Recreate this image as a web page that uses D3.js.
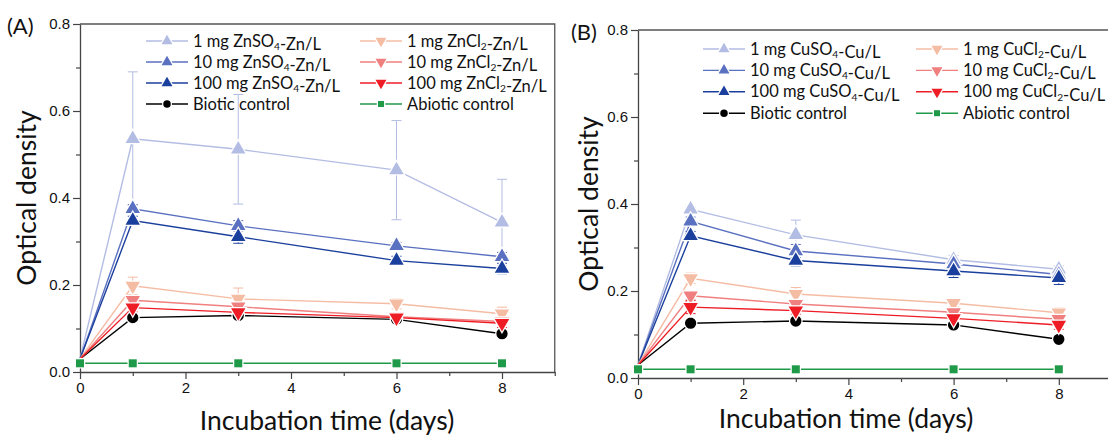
<!DOCTYPE html>
<html>
<head>
<meta charset="utf-8">
<script src="https://cdn.jsdelivr.net/npm/d3@7"></script>
<style>
  body { margin: 0; background: #fff; }
  svg { display: block; font-family: Lato, "Open Sans", sans-serif; }
</style>
</head>
<body>
<script>
// 数据
const days = [0, 1, 3, 6, 8];

// (A) 锌
const znSO4_1 = [0.03, 0.536, 0.512, 0.464, 0.344];
const znSO4_10 = [0.03, 0.375, 0.336, 0.290, 0.265];
const znSO4_100 = [0.03, 0.348, 0.311, 0.256, 0.238];
const znCl2_1 = [0.03, 0.198, 0.168, 0.157, 0.134];
const znCl2_10 = [0.03, 0.165, 0.150, 0.127, 0.116];
const znCl2_100 = [0.03, 0.148, 0.137, 0.125, 0.112];
const bioticA = [0.03, 0.125, 0.130, 0.121, 0.088];
const abioticA = [0.02, 0.02, 0.02, 0.02, 0.02];

const znSO4_1_err = [0, 0.154, 0.126, 0.114, 0.099];
const znSO4_10_err = [0, 0.010, 0.012, 0.008, 0.010];
const znSO4_100_err = [0, 0.010, 0.015, 0.010, 0.012];
const znCl2_1_err = [0, 0.020, 0.025, 0.012, 0.015];
const znCl2_10_err = [0, 0.010, 0.010, 0.005, 0.008];
const znCl2_100_err = [0, 0.010, 0.005, 0.005, 0.010];
const bioticA_err = [0, 0.005, 0.005, 0.008, 0.005];

// (B) 铜
const cuSO4_1 = [0.03, 0.388, 0.329, 0.272, 0.250];
const cuSO4_10 = [0.03, 0.360, 0.292, 0.262, 0.238];
const cuSO4_100 = [0.03, 0.327, 0.270, 0.246, 0.230];
const cuCl2_1 = [0.03, 0.229, 0.193, 0.172, 0.150];
const cuCl2_10 = [0.03, 0.189, 0.170, 0.151, 0.135];
const cuCl2_100 = [0.03, 0.163, 0.155, 0.137, 0.122];
const bioticB = [0.03, 0.126, 0.131, 0.122, 0.089];
const abioticB = [0.02, 0.02, 0.02, 0.02, 0.02];

const cuSO4_1_err = [0, 0.005, 0.034, 0.010, 0.008];
const cuSO4_10_err = [0, 0.010, 0.015, 0.010, 0.008];
const cuSO4_100_err = [0, 0.010, 0.012, 0.015, 0.015];
const cuCl2_1_err = [0, 0.012, 0.015, 0.008, 0.012];
const cuCl2_10_err = [0, 0.008, 0.008, 0.008, 0.010];
const cuCl2_100_err = [0, 0.015, 0.008, 0.008, 0.010];
const bioticB_err = [0, 0.005, 0.005, 0.005, 0.005];

// 图例文字，"_x" 表示下标
const namesA = ["1 mg ZnSO_4-Zn/L", "10 mg ZnSO_4-Zn/L", "100 mg ZnSO_4-Zn/L", "Biotic control",
                "1 mg ZnCl_2-Zn/L", "10 mg ZnCl_2-Zn/L", "100 mg ZnCl_2-Zn/L", "Abiotic control"];
const namesB = ["1 mg CuSO_4-Cu/L", "10 mg CuSO_4-Cu/L", "100 mg CuSO_4-Cu/L", "Biotic control",
                "1 mg CuCl_2-Cu/L", "10 mg CuCl_2-Cu/L", "100 mg CuCl_2-Cu/L", "Abiotic control"];

const xTicks = [0, 2, 4, 6, 8];
const yTicks = [0, 0.2, 0.4, 0.6, 0.8];

const colors = ["#b3bde3", "#5a70c0", "#1b3f9c", "#000000", "#f5bca4", "#f07f7f", "#ee1c24", "#1f9a48"];
const shapes = ["up", "up", "up", "circle", "down", "down", "down", "square"];

const svg = d3.select("body").append("svg").attr("width", 1108).attr("height", 438);

function markerPath(shape, big) {
    let s;
    if (shape === "circle") s = d3.symbol(d3.symbolCircle, big ? 100 : 44);
    else if (shape === "square") s = d3.symbol(d3.symbolSquare, big ? 64 : 36);
    else s = d3.symbol(d3.symbolTriangle, big ? 90 : 52);
    return s();
}

function drawMarker(g, shape, color, x, y, big) {
    g.append("path")
        .attr("d", markerPath(shape, big))
        .attr("transform", `translate(${x},${y})` + (shape === "down" ? " rotate(180)" : ""))
        .attr("fill", color)
        .attr("stroke", "#fff")
        .attr("stroke-width", 2.5)
        .attr("paint-order", "stroke");
}

// 带下标的文字
function addLabel(text, str) {
    str.split(/(_\d)/).forEach(part => {
        if (part.startsWith("_")) {
            text.append("tspan").attr("font-size", "0.62em").attr("dy", "0.35em").text(part.slice(1));
            text.append("tspan").attr("dy", "-0.35em").text("");
        } else if (part) {
            text.append("tspan").text(part);
        }
    });
}

function createPanel(option) {
    const { left, top, bottom, unit, series, errors, names, tag, tagX, tagY, legend, yLabelX, xLabelX, xLabelY } = option;
    const x = d3.scaleLinear().domain([0, 9]).range([left, left + 9 * unit]);
    const y = d3.scaleLinear().domain([0, 0.8]).range([bottom, top]);
    const right = x(9);
    const g = svg.append("g");

    // 边框
    g.append("path")
        .attr("d", `M${left},${top}H${right}V${bottom}`)
        .attr("fill", "none").attr("stroke", "#555").attr("stroke-width", 1.3);

    // x轴
    g.append("g").attr("transform", `translate(0,${bottom})`)
        .call(d3.axisBottom(x).tickValues(d3.range(1, 10, 2)).tickSize(4).tickFormat(""))
        .call(a => a.select(".domain").remove());
    const gx = g.append("g").attr("transform", `translate(0,${bottom})`)
        .call(d3.axisBottom(x).tickValues(xTicks).tickSize(7).tickSizeOuter(0).tickPadding(3));
    gx.selectAll("text").attr("font-size", 15).attr("fill", "#111");

    // y轴
    g.append("g").attr("transform", `translate(${left},0)`)
        .call(d3.axisLeft(y).tickValues([0.1, 0.3, 0.5, 0.7]).tickSize(4).tickFormat(""))
        .call(a => a.select(".domain").remove());
    const gy = g.append("g").attr("transform", `translate(${left},0)`)
        .call(d3.axisLeft(y).tickValues(yTicks).tickSize(7).tickSizeOuter(0).tickPadding(3).tickFormat(d3.format(".1f")));
    gy.selectAll("text").attr("font-size", 15).attr("fill", "#111");
    g.selectAll(".tick line").attr("stroke", "#444").attr("stroke-width", 1.2);
    g.selectAll(".domain").attr("stroke", "#444").attr("stroke-width", 1.3);

    // 轴标题
    g.append("text")
        .attr("transform", `translate(${yLabelX},${(top + bottom) / 2}) rotate(-90)`)
        .attr("text-anchor", "middle").attr("font-size", 26.5).attr("fill", "#111")
        .text("Optical density");
    g.append("text")
        .attr("x", xLabelX).attr("y", xLabelY)
        .attr("text-anchor", "middle").attr("font-size", 26.5).attr("fill", "#111")
        .text("Incubation time (days)");
    g.append("text").attr("x", tagX).attr("y", tagY).attr("font-size", 22).attr("fill", "#111").text(tag);

    const line = d3.line().x((d, i) => x(days[i])).y(d => y(d));

    // 误差棒 + 折线 + 点
    series.forEach((vals, k) => {
        const color = colors[k];
        const err = errors[k];
        const sg = g.append("g");
        sg.append("path").datum(vals)
            .attr("fill", "none").attr("stroke", color).attr("stroke-width", 1.4)
            .attr("d", line);
        if (err) {
            vals.forEach((v, i) => {
                if (!err[i]) return;
                const cx = x(days[i]);
                sg.append("path")
                    .attr("d", `M${cx},${y(v - err[i])}V${y(v + err[i])}M${cx - 5},${y(v + err[i])}H${cx + 5}M${cx - 5},${y(v - err[i])}H${cx + 5}`)
                    .attr("stroke", color).attr("stroke-width", 1).attr("fill", "none");
            });
        }
    });
    series.forEach((vals, k) => {
        const sg = g.append("g");
        vals.forEach((v, i) => {
            if (i === 0 && shapes[k] !== "square") return;
            drawMarker(sg, shapes[k], colors[k], x(days[i]), y(v), true);
        });
    });

    // 图例
    names.forEach((name, k) => {
        const col = k < 4 ? 0 : 1;
        const row = k % 4;
        const lx = legend.x[col];
        const ly = legend.y + row * legend.dy;
        const lg = g.append("g");
        lg.append("line").attr("x1", lx).attr("x2", lx + 42).attr("y1", ly).attr("y2", ly)
            .attr("stroke", colors[k]).attr("stroke-width", 1.4);
        drawMarker(lg, shapes[k], colors[k], lx + 21, ly, false);
        const t = lg.append("text").attr("x", lx + 47).attr("y", ly + 5.5)
            .attr("font-size", 16.5).attr("fill", "#111");
        addLabel(t, name);
    });
}

createPanel({
    left: 80, top: 24, bottom: 372, unit: 52.75,
    series: [znSO4_1, znSO4_10, znSO4_100, bioticA, znCl2_1, znCl2_10, znCl2_100, abioticA],
    errors: [znSO4_1_err, znSO4_10_err, znSO4_100_err, bioticA_err, znCl2_1_err, znCl2_10_err, znCl2_100_err, null],
    names: namesA, tag: "(A)", tagX: 7, tagY: 34,
    legend: { x: [146, 360], y: 41, dy: 21 },
    yLabelX: 36, xLabelX: 327, xLabelY: 430
});

createPanel({
    left: 638, top: 30, bottom: 378, unit: 52.6,
    series: [cuSO4_1, cuSO4_10, cuSO4_100, bioticB, cuCl2_1, cuCl2_10, cuCl2_100, abioticB],
    errors: [cuSO4_1_err, cuSO4_10_err, cuSO4_100_err, bioticB_err, cuCl2_1_err, cuCl2_10_err, cuCl2_100_err, null],
    names: namesB, tag: "(B)", tagX: 571, tagY: 40,
    legend: { x: [703, 916], y: 49, dy: 21.4 },
    yLabelX: 598, xLabelX: 846, xLabelY: 428
});
</script>
</body>
</html>
